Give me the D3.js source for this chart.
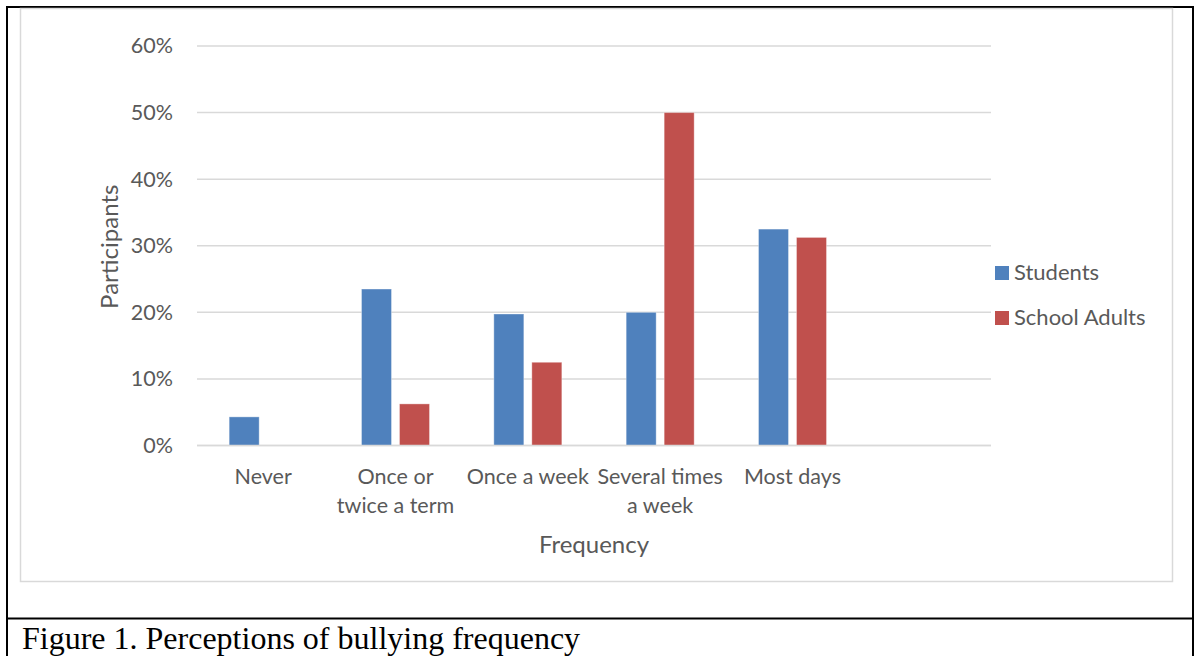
<!DOCTYPE html>
<html>
<head>
<meta charset="utf-8">
<script src="https://cdn.jsdelivr.net/npm/d3@7"></script>
<style>
  html, body { margin: 0; padding: 0; background: #fff; }
  svg { display: block; }
</style>
</head>
<body>
<svg id="chart" width="1196" height="656"></svg>
<script>
// Bullying frequency perceptions (share of participants)
const categories = ["Never", "Once or twice a term", "Once a week", "Several times a week", "Most days", ""];
const categoryLines = [["Never"], ["Once or", "twice a term"], ["Once a week"], ["Several times", "a week"], ["Most days"], [""]];
const seriesNames = ["Students", "School Adults"];
const students = [0.043, 0.235, 0.1975, 0.20, 0.325, null];
const schoolAdults = [0, 0.0625, 0.125, 0.50, 0.3125, null];
const yTicks = [0, 0.1, 0.2, 0.3, 0.4, 0.5, 0.6];
const colors = ["#4F81BD", "#C0504D"];

const svg = d3.select("#chart");
const font = "Lato, 'Open Sans', sans-serif";
const textColor = "#595959";
const labelSize = 21.5;

// document frame and caption row
svg.append("line").attr("x1", 6).attr("x2", 1194).attr("y1", 7).attr("y2", 7).attr("stroke", "#000").attr("stroke-width", 2);
svg.append("line").attr("x1", 7).attr("x2", 7).attr("y1", 6).attr("y2", 656).attr("stroke", "#000").attr("stroke-width", 2);
svg.append("line").attr("x1", 1193).attr("x2", 1193).attr("y1", 6).attr("y2", 656).attr("stroke", "#000").attr("stroke-width", 2);
svg.append("line").attr("x1", 6).attr("x2", 1194).attr("y1", 618.5).attr("y2", 618.5).attr("stroke", "#000").attr("stroke-width", 2);

// chart area border
svg.append("rect").attr("x", 20.5).attr("y", 8.5).attr("width", 1152).attr("height", 573)
  .attr("fill", "#fff").attr("stroke", "#d9d9d9").attr("stroke-width", 1.5);

svg.append("text").attr("x", 22).attr("y", 649)
  .attr("font-family", "'Liberation Serif', 'Times New Roman', serif")
  .attr("font-size", 32).attr("fill", "#000")
  .text("Figure 1. Perceptions of bullying frequency");

const plot = { left: 197, right: 991, top: 46, bottom: 445.5 };

const x = d3.scaleBand().domain(categories.map((c, i) => i)).range([plot.left, plot.right]);
const y = d3.scaleLinear().domain([0, 0.6]).range([plot.bottom, plot.top]);

// gridlines
svg.append("g").selectAll("line").data(yTicks).join("line")
  .attr("x1", plot.left).attr("x2", plot.right)
  .attr("y1", d => y(d)).attr("y2", d => y(d))
  .attr("stroke", "#d9d9d9").attr("stroke-width", 1.5);

// y axis labels
const yAxis = d3.axisLeft(y).tickValues(yTicks).tickFormat(d3.format(".0%")).tickSize(0).tickPadding(0);
const gy = svg.append("g").attr("transform", `translate(${plot.left - 24},0)`).call(yAxis);
gy.select(".domain").remove();
gy.selectAll("text").attr("font-family", font).attr("font-size", labelSize).attr("fill", textColor);

// bars
const barW = 30, gap = 8;
const sub = d3.scaleOrdinal().domain([0, 1]).range([-(gap / 2 + barW), gap / 2]);
[students, schoolAdults].forEach((vals, si) => {
  svg.append("g").selectAll("rect")
    .data(vals.map((v, i) => ({ v, i })).filter(d => d.v !== null && d.v > 0))
    .join("rect")
    .attr("x", d => x(d.i) + x.bandwidth() / 2 + sub(si))
    .attr("y", d => y(d.v))
    .attr("width", barW)
    .attr("height", d => y(0) - y(d.v))
    .attr("fill", colors[si])
    .attr("stroke", "#fff").attr("stroke-opacity", 0.35).attr("stroke-width", 1);
});

// x axis line drawn over bars
svg.append("line").attr("x1", plot.left).attr("x2", plot.right)
  .attr("y1", y(0)).attr("y2", y(0)).attr("stroke", "#d9d9d9").attr("stroke-width", 1.5);

// category labels
const gx = svg.append("g");
categoryLines.forEach((lines, i) => {
  const t = gx.append("text").attr("text-anchor", "middle")
    .attr("font-family", font).attr("font-size", labelSize).attr("fill", textColor);
  lines.forEach((ln, j) => {
    t.append("tspan").attr("x", x(i) + x.bandwidth() / 2).attr("y", 484 + j * 29).text(ln);
  });
});

// axis titles
svg.append("text").attr("x", (plot.left + plot.right) / 2).attr("y", 553)
  .attr("text-anchor", "middle").attr("font-family", font).attr("font-size", 24)
  .attr("fill", textColor).text("Frequency");
svg.append("text").attr("transform", `translate(118,${(plot.top + plot.bottom) / 2 + 1}) rotate(-90)`)
  .attr("text-anchor", "middle").attr("font-family", font).attr("font-size", 24)
  .attr("fill", textColor).text("Participants");

// legend
const legend = svg.append("g");
seriesNames.forEach((name, i) => {
  const ly = 266 + i * 45;
  legend.append("rect").attr("x", 995).attr("y", ly).attr("width", 14).attr("height", 14).attr("fill", colors[i]);
  legend.append("text").attr("x", 1014).attr("y", ly + 14)
    .attr("font-family", font).attr("font-size", 22).attr("fill", textColor).text(name);
});
</script>
</body>
</html>
